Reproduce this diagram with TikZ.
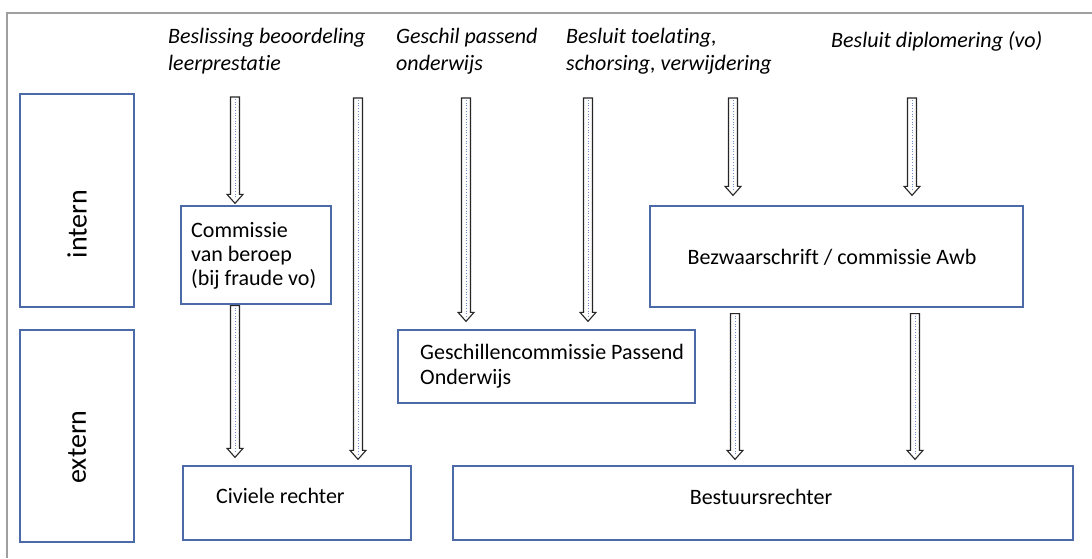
\documentclass[tikz,border=0pt]{standalone}
\usepackage{fontspec}
\setmainfont{Carlito}[Ligatures=NoCommon]
\usetikzlibrary{calc}
\definecolor{boxblue}{RGB}{76,106,168}
\definecolor{dotblue}{RGB}{110,140,210}
\tikzset{
  box/.style={draw=boxblue, line width=1.3pt, rectangle, inner sep=0pt},
  lbl/.style={font=\fontsize{22}{26}\selectfont, inner sep=0pt, align=left},
  toplbl/.style={font=\fontsize{22}{27}\selectfont\itshape, inner sep=0pt, align=left, anchor=west},
  side/.style={font=\fontsize{28}{30}\selectfont, rotate=90, inner sep=0pt},
}
\newcommand\barrow[2]{%
  \path #1 coordinate (ba1) #2 coordinate (ba2);
  \draw[line width=1.1pt, fill=white, line join=miter, draw=black!85]
    ($(ba1)+(-4.5,0)$) -- ($(ba2)+(-4.5,-9)$) -- ($(ba2)+(-8,-9)$) -- (ba2)
    -- ($(ba2)+(8,-9)$) -- ($(ba2)+(4.5,-9)$) -- ($(ba1)+(4.5,0)$) -- cycle;
  \draw[dotblue, dotted, line width=0.7pt] ($(ba1)+(0,2)$) -- ($(ba2)+(0,-5)$);
}
\begin{document}
\begin{tikzpicture}[x=1pt,y=-1pt]
\useasboundingbox (0,0) rectangle (1092,558);
% frame
\draw[gray!75, line width=2pt] (7,558) -- (7,13) -- (1092,13);
% side boxes
\node[box, minimum width=114pt, minimum height=213pt] (intbox) at (77,200.5) {};
\node[side] (intlbl) at (77,224) {intern};
\node[box, minimum width=114pt, minimum height=212pt] (extbox) at (77,436) {};
\node[side] (extlbl) at (77,447) {extern};
% top labels
\node[toplbl] (t1) at (168,51.5) {Beslissing beoordeling\\leerprestatie};
\node[toplbl] (t2) at (396,51.5) {Geschil passend\\onderwijs};
\node[toplbl] (t3) at (566,51.5) {Besluit toelating,\\schorsing, verwijdering};
\node[toplbl] (t4) at (831,41) {Besluit diplomering (vo)};
% boxes
\node[box, minimum width=150pt, minimum height=98pt] (comm) at (256,255) {};
\node[lbl, font=\fontsize{22}{24}\selectfont, anchor=west] (commt) at (191,256) {Commissie\\van beroep\\(bij fraude vo)};
\node[box, minimum width=228pt, minimum height=74pt] (civ) at (297,503) {};
\node[lbl, anchor=west] (civt) at (216,496) {Civiele rechter};
\node[box, minimum width=297pt, minimum height=73pt] (gesch) at (546.5,366.5) {};
\node[lbl, font=\fontsize{22}{25}\selectfont, anchor=west] (gescht) at (420,366) {Geschillencommissie Passend\\Onderwijs};
\node[box, minimum width=373pt, minimum height=101pt] (bezw) at (836.5,256.5) {};
\node[lbl] (bezwt) at (832,257) {Bezwaarschrift / commissie Awb};
\node[box, minimum width=620pt, minimum height=74pt] (best) at (763,503) {};
\node[lbl] (bestt) at (761,497) {Bestuursrechter};
% arrow start coordinates
\coordinate (s1) at (235,97);
\coordinate (s2) at (358,98);
\coordinate (s3) at (466,98);
\coordinate (s4) at (588,98);
\coordinate (s5) at (733,98);
\coordinate (s6) at (912,98);
% arrows
\barrow{(s1)}{($(comm.north -| s1)+(0,-2)$)}
\barrow{(s2)}{($(civ.north -| s2)+(0,-6)$)}
\barrow{(s3)}{($(gesch.north -| s3)+(0,-8)$)}
\barrow{(s4)}{($(gesch.north -| s4)+(0,-8)$)}
\barrow{(s5)}{($(bezw.north -| s5)+(0,-10)$)}
\barrow{(s6)}{($(bezw.north -| s6)+(0,-10)$)}
\barrow{($(comm.south -| s1)+(0,1)$)}{($(civ.north -| s1)+(0,-8)$)}
\coordinate (b1) at (735,0);
\coordinate (b2) at (915,0);
\barrow{($(bezw.south -| b1)+(0,6)$)}{($(best.north -| b1)+(0,-6)$)}
\barrow{($(bezw.south -| b2)+(0,6)$)}{($(best.north -| b2)+(0,-6)$)}
\end{tikzpicture}
\end{document}
